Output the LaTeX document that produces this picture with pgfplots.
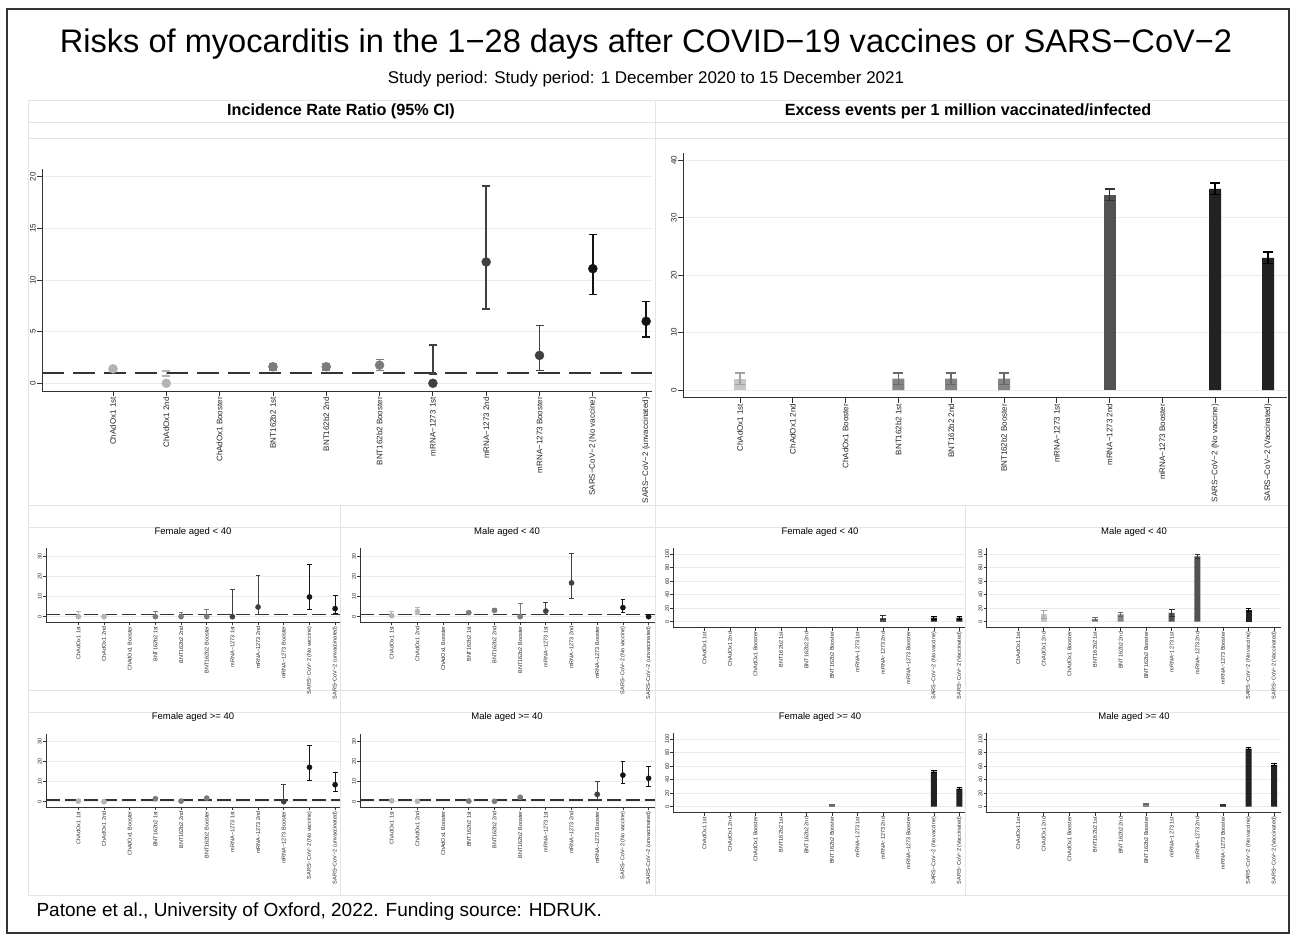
\documentclass[border=0pt]{standalone}
\usepackage{pgfplots}
\pgfplotsset{compat=1.18}
\usepackage{fontspec}
\setmainfont{Liberation Sans}
\definecolor{cA}{HTML}{B4B4B4}
\definecolor{cB}{HTML}{7C7C7C}
\definecolor{cC}{HTML}{404040}
\definecolor{cD}{HTML}{141414}
\definecolor{fA}{HTML}{C6C6C6}
\definecolor{fB}{HTML}{858585}
\definecolor{fC}{HTML}{525252}
\definecolor{fD}{HTML}{222222}
\definecolor{gridc}{HTML}{EBEBEB}
\definecolor{boxc}{HTML}{E4E4E4}
\definecolor{axc}{HTML}{333333}
\pgfplotsset{
  base/.style={
    scale only axis, anchor=south west,
    axis x line*=bottom, axis y line*=left,
    axis line style={axc, line width=0.8pt, -},
    tick align=outside,
    tick style={axc, line width=0.8pt},
    xtick={0,...,10},
    ymajorgrids, grid style={gridc, line width=0.8pt},
    clip=false,
    /pgf/number format/assume math mode=true,
    tick label style={text=black!85},
    yticklabel style={rotate=90, anchor=south, inner sep=1pt},
    xticklabel style={rotate=90, anchor=east, inner sep=1pt},
  },
  big/.style={base, major tick length=5pt, tick label style={font=\fontsize{8}{9}\selectfont}},
  small/.style={base, major tick length=3pt, tick label style={font=\fontsize{5.5}{6}\selectfont}},
  irrlab/.style={xticklabels={ChAdOx1 1st, ChAdOx1 2nd, ChAdOx1 Booster, BNT162b2 1st, BNT162b2 2nd, BNT162b2 Booster, mRNA−1273 1st, mRNA−1273 2nd, mRNA−1273 Booster, SARS−CoV−2 (No vaccine), SARS−CoV−2 (unvaccinated)}},
  exclab/.style={xticklabels={ChAdOx1 1st, ChAdOx1 2nd, ChAdOx1 Booster, BNT162b2 1st, BNT162b2 2nd, BNT162b2 Booster, mRNA−1273 1st, mRNA−1273 2nd, mRNA−1273 Booster, SARS−CoV−2 (No vaccine), SARS−CoV−2 (Vaccinated)}},
  bigerr/.style={#1, only marks, mark size=4.5pt,
    error bars/y dir=both, error bars/y explicit,
    error bars/error bar style={line width=1.5pt, #1},
    error bars/error mark options={rotate=90, mark size=4pt, line width=1.5pt, #1}},
  smerr/.style={#1, only marks, mark size=2.6pt,
    error bars/y dir=both, error bars/y explicit,
    error bars/error bar style={line width=1pt, #1},
    error bars/error mark options={rotate=90, mark size=2.4pt, line width=1pt, #1}},
  bigbar/.style 2 args={ybar, bar width=12pt, bar shift=0pt, fill=#1, draw=none,
    error bars/y dir=both, error bars/y explicit,
    error bars/error bar style={line width=1.5pt, #2},
    error bars/error mark options={rotate=90, mark size=5pt, line width=1.5pt, #2}},
  smbar/.style 2 args={ybar, bar width=6pt, bar shift=0pt, fill=#1, draw=none,
    error bars/y dir=both, error bars/y explicit,
    error bars/error bar style={line width=0.9pt, #2},
    error bars/error mark options={rotate=90, mark size=2.8pt, line width=0.9pt, #2}},
  irrsmall/.style={small, irrlab, ymin=-2.8, ymax=34, ytick={0,10,20,30}},
  excsmall/.style={small, exclab, ymin=-8.9, ymax=108.9, ytick={0,20,...,100}},
}
\begin{document}
\begin{tikzpicture}
\useasboundingbox (0,0) rectangle (1292pt,-936pt);
\fill[white] (0,0) rectangle (1292pt,-936pt);
% faint panel boxes
\begin{scope}[boxc, line width=0.8pt]
\draw (28pt,-100pt) rectangle (655pt,-505pt);
\draw (655pt,-100pt) rectangle (1288pt,-505pt);
\draw (28pt,-122pt) -- (1288pt,-122pt);
\draw (28pt,-138pt) -- (1288pt,-138pt);
\draw (28pt,-505pt) rectangle (1288pt,-895pt);
\draw (28pt,-527pt) -- (1288pt,-527pt);
\draw (28pt,-690pt) -- (1288pt,-690pt);
\draw (28pt,-712pt) -- (1288pt,-712pt);
\draw (340pt,-505pt) -- (340pt,-895pt);
\draw (655pt,-505pt) -- (655pt,-895pt);
\draw (965pt,-505pt) -- (965pt,-895pt);
\end{scope}
% border
\draw[black!80, line width=2pt] (7pt,-9pt) rectangle (1289pt,-933pt);
% titles
\node[anchor=base] at (646pt,-53pt) {\fontsize{32.6}{36}\selectfont Risks of myocarditis in the 1−28 days after COVID−19 vaccines or SARS−CoV−2};
\node[anchor=base] at (646pt,-84pt) {\fontsize{17}{19}\selectfont Study period: Study period: 1 December 2020 to 15 December 2021};
\node[anchor=base] at (341pt,-116pt) {\fontsize{16.2}{18}\selectfont\bfseries Incidence Rate Ratio (95\% CI)};
\node[anchor=base] at (968pt,-116pt) {\fontsize{16.2}{18}\selectfont\bfseries Excess events per 1 million vaccinated/infected};
\node[anchor=base west] at (33pt,-916pt) {\fontsize{19}{22}\selectfont Patone et al., University of Oxford, 2022. Funding source: HDRUK.};
% small titles
\node[anchor=base] at (193pt,-534pt) {\fontsize{9.5}{11}\selectfont Female aged < 40};
\node[anchor=base] at (507pt,-534pt) {\fontsize{9.5}{11}\selectfont Male aged < 40};
\node[anchor=base] at (820pt,-534pt) {\fontsize{9.5}{11}\selectfont Female aged < 40};
\node[anchor=base] at (1134pt,-534pt) {\fontsize{9.5}{11}\selectfont Male aged < 40};
\node[anchor=base] at (193pt,-719pt) {\fontsize{9.5}{11}\selectfont Female aged >= 40};
\node[anchor=base] at (507pt,-719pt) {\fontsize{9.5}{11}\selectfont Male aged >= 40};
\node[anchor=base] at (820pt,-719pt) {\fontsize{9.5}{11}\selectfont Female aged >= 40};
\node[anchor=base] at (1134pt,-719pt) {\fontsize{9.5}{11}\selectfont Male aged >= 40};

% ===== Top-left: IRR overall
\begin{axis}[big, irrlab, at={(42pt,-391pt)}, width=610pt, height=222pt,
  xmin=-1.332, xmax=10.11, ymin=-0.75, ymax=20.75, ytick={0,5,10,15,20}]
\addplot[axc, line width=1.3pt, dash pattern=on 22pt off 9pt] coordinates {(-1.332,1) (10.11,1)};
\addplot[bigerr=cA, mark=*] coordinates {(0,1.4) +- (0,0.22) (1,0) +- (0,0)};
\addplot[bigerr=cA, mark=*, mark size=0.01pt] coordinates {(1,0.95) +- (0,0.25)};
\addplot[bigerr=cB, mark=*] coordinates {(3,1.6) +- (0,0.3) (4,1.6) +- (0,0.3) (5,1.75) += (0,0.55) -= (0,0.5)};
\addplot[bigerr=cC, mark=*, mark size=0.01pt] coordinates {(6,2.3) +- (0,1.4)};
\addplot[bigerr=cC, mark=*] coordinates {(6,0) +- (0,0) (7,11.75) += (0,7.35) -= (0,4.55) (8,2.7) += (0,2.9) -= (0,1.45)};
\addplot[bigerr=cD, mark=*] coordinates {(9,11.1) += (0,3.3) -= (0,2.5) (10,6.0) += (0,1.9) -= (0,1.5)};
\end{axis}

% ===== Top-right: excess overall
\begin{axis}[big, exclab, at={(683pt,-397.7pt)}, width=604pt, height=245pt,
  xmin=-1.08, xmax=10.36, ymin=-1.34, ymax=41.3, ytick={0,10,20,30,40}]
\addplot[bigbar={fA}{cA!90!black}] coordinates {(0,2) +- (0,1)};
\addplot[bigbar={fB}{cB!85!black}] coordinates {(3,2) +- (0,1) (4,2) +- (0,1) (5,2) +- (0,1)};
\addplot[bigbar={fC}{cC!80!black}] coordinates {(7,34) +- (0,1)};
\addplot[bigbar={fD}{black}] coordinates {(9,35) +- (0,1) (10,23) +- (0,1)};
\end{axis}

% ===== Female < 40 IRR
\begin{axis}[irrsmall, at={(46pt,-622.3pt)}, width=294pt, height=74pt, xmin=-1.26, xmax=10.19]
\addplot[axc, line width=1.6pt, dash pattern=on 14pt off 5pt] coordinates {(-1.26,1) (10.19,1)};
\addplot[smerr=cA, mark=*] coordinates {(0,0) += (0,2.7) -= (0,0) (1,0) += (0,1.2) -= (0,0)};
\addplot[smerr=cB, mark=*] coordinates {(3,0) += (0,2.8) -= (0,0) (4,0) += (0,2.3) -= (0,0) (5,0) += (0,3.6) -= (0,0)};
\addplot[smerr=cC, mark=*] coordinates {(6,0) += (0,13.3) -= (0,0) (7,4.8) += (0,15.5) -= (0,3.5)};
\addplot[smerr=cD, mark=*] coordinates {(9,9.8) += (0,16.2) -= (0,6.2) (10,4.0) += (0,6.4) -= (0,2.6)};
\end{axis}

% ===== Male < 40 IRR
\begin{axis}[irrsmall, at={(360pt,-622.3pt)}, width=295pt, height=74pt, xmin=-1.235, xmax=10.25]
\addplot[axc, line width=1.6pt, dash pattern=on 14pt off 5pt] coordinates {(-1.235,1) (10.25,1)};
\addplot[smerr=cA, mark=*] coordinates {(0,0.5) += (0,2.0) -= (0,0.5) (1,2.6) += (0,2.1) -= (0,1.3)};
\addplot[smerr=cB, mark=*] coordinates {(3,2.0) += (0,0.4) -= (0,0.4) (4,3.1) += (0,0.8) -= (0,0.6) (5,0) += (0,6.7) -= (0,0)};
\addplot[smerr=cC, mark=*] coordinates {(6,2.8) += (0,4.2) -= (0,1.6) (7,16.8) += (0,14.4) -= (0,7.6)};
\addplot[smerr=cD, mark=*] coordinates {(9,4.5) += (0,3.8) -= (0,2.3) (10,0) += (0,1.3) -= (0,0)};
\end{axis}

% ===== Female >= 40 IRR
\begin{axis}[irrsmall, at={(46pt,-807.3pt)}, width=294pt, height=73.6pt, xmin=-1.26, xmax=10.19]
\addplot[axc, line width=1.6pt, dash pattern=on 14pt off 5pt] coordinates {(-1.26,1) (10.19,1)};
\addplot[smerr=cA, mark=*] coordinates {(0,0.3) += (0,1.0) -= (0,0.3) (1,0) += (0,0.5) -= (0,0)};
\addplot[smerr=cB, mark=*] coordinates {(3,1.5) += (0,0.6) -= (0,0.4) (4,0.3) += (0,0.9) -= (0,0.3) (5,1.8) += (0,0.5) -= (0,0.5)};
\addplot[smerr=cC, mark=*] coordinates {(8,0) += (0,8.7) -= (0,0)};
\addplot[smerr=cD, mark=*] coordinates {(9,17.2) += (0,10.8) -= (0,6.5) (10,8.5) += (0,6.2) -= (0,3.5)};
\end{axis}

% ===== Male >= 40 IRR
\begin{axis}[irrsmall, at={(360pt,-807.3pt)}, width=295pt, height=73.6pt, xmin=-1.235, xmax=10.25]
\addplot[axc, line width=1.6pt, dash pattern=on 14pt off 5pt] coordinates {(-1.235,1) (10.25,1)};
\addplot[smerr=cA, mark=*] coordinates {(0,0.5) += (0,0.8) -= (0,0.5) (1,0.2) += (0,0.5) -= (0,0.2)};
\addplot[smerr=cB, mark=*] coordinates {(3,0.3) += (0,0.9) -= (0,0.3) (4,0.2) += (0,0.6) -= (0,0.2) (5,2.2) += (0,0.6) -= (0,0.5)};
\addplot[smerr=cC, mark=*] coordinates {(8,3.7) += (0,6.3) -= (0,2.5)};
\addplot[smerr=cD, mark=*] coordinates {(9,13.3) += (0,6.7) -= (0,4.1) (10,11.7) += (0,6.1) -= (0,4.2)};
\end{axis}

% ===== Female < 40 excess
\begin{axis}[excsmall, at={(673.3pt,-627.7pt)}, width=291.7pt, height=79.4pt, xmin=-1.22, xmax=10.22]
\addplot[smbar={fC}{cC!80!black}] coordinates {(7,6) +- (0,3)};
\addplot[smbar={fD}{black}] coordinates {(9,6) +- (0,2) (10,6) +- (0,2)};
\end{axis}

% ===== Male < 40 excess
\begin{axis}[excsmall, at={(986.7pt,-627.7pt)}, width=294.3pt, height=79.4pt, xmin=-1.23, xmax=10.27]
\addplot[smbar={fA}{cA!90!black}] coordinates {(1,11) +- (0,6)};
\addplot[smbar={fB}{cB!85!black}] coordinates {(3,4) +- (0,2) (4,11) +- (0,3)};
\addplot[smbar={fC}{cC!80!black}] coordinates {(6,13) +- (0,5) (7,97) +- (0,3)};
\addplot[smbar={fD}{black}] coordinates {(9,17) +- (0,2)};
\end{axis}

% ===== Female >= 40 excess
\begin{axis}[excsmall, at={(673.3pt,-812.7pt)}, width=291.7pt, height=79.4pt, xmin=-1.22, xmax=10.22]
\addplot[smbar={fB}{cB!85!black}] coordinates {(5,3) +- (0,1)};
\addplot[smbar={fD}{black}] coordinates {(9,52) +- (0,1.5) (10,27) +- (0,1.5)};
\end{axis}

% ===== Male >= 40 excess
\begin{axis}[excsmall, at={(986.7pt,-812.7pt)}, width=294.3pt, height=79.4pt, xmin=-1.23, xmax=10.27]
\addplot[smbar={fB}{cB!85!black}] coordinates {(5,4) +- (0,1)};
\addplot[smbar={fC}{cC!80!black}] coordinates {(8,3) +- (0,1)};
\addplot[smbar={fD}{black}] coordinates {(9,86) +- (0,1.5) (10,62) +- (0,1.5)};
\end{axis}
\end{tikzpicture}
\end{document}
